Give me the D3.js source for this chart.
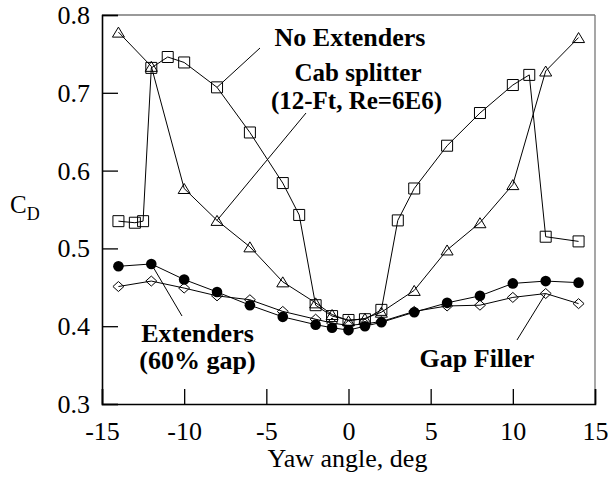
<!DOCTYPE html>
<html>
<head>
<meta charset="utf-8">
<script src="https://cdn.jsdelivr.net/npm/d3@7"></script>
<style>
  html, body { margin: 0; padding: 0; background: #fff; }
  svg { display: block; }
  svg text { font-family: "Liberation Serif", "Times New Roman", serif !important; }
</style>
</head>
<body>
<svg id="chart" width="608" height="477"></svg>
<script>
// Drag coefficient vs yaw angle for four truck configurations
const noExtX = [-14, -13, -12.5, -12, -11, -10, -8, -6, -4, -3, -2, -1, 0, 1, 2, 3, 4, 6, 8, 10, 11, 12, 14];
const noExtY = [0.535, 0.533, 0.535, 0.732, 0.746, 0.739, 0.707, 0.649, 0.584, 0.543, 0.427, 0.413, 0.408, 0.409, 0.421, 0.536, 0.577, 0.632, 0.674, 0.710, 0.723, 0.515, 0.509];

const cabX = [-14, -12, -10, -8, -6, -4, -2, -1, 0, 1, 2, 4, 6, 8, 10, 12, 14];
const cabY = [0.778, 0.734, 0.577, 0.536, 0.502, 0.457, 0.430, 0.415, 0.407, 0.410, 0.418, 0.446, 0.498, 0.533, 0.582, 0.728, 0.771];

const extX = [-14, -12, -10, -8, -6, -4, -2, -1, 0, 1, 2, 4, 6, 8, 10, 12, 14];
const extY = [0.477, 0.480, 0.460, 0.444, 0.427, 0.412, 0.402, 0.398, 0.395, 0.400, 0.405, 0.418, 0.430, 0.439, 0.455, 0.458, 0.456];

const gapX = [-14, -12, -10, -8, -6, -4, -2, -1, 0, 1, 2, 4, 6, 8, 10, 12, 14];
const gapY = [0.451, 0.458, 0.449, 0.439, 0.434, 0.419, 0.409, 0.404, 0.401, 0.403, 0.406, 0.419, 0.426, 0.427, 0.437, 0.442, 0.429];

const xTicks = [-15, -10, -5, 0, 5, 10, 15];
const yTicks = [0.3, 0.4, 0.5, 0.6, 0.7, 0.8];

const W = 608, H = 477;
const margin = { left: 102, right: 13, top: 15, bottom: 73 };
const iw = W - margin.left - margin.right;
const ih = H - margin.top - margin.bottom;
const SERIF = "'Liberation Serif', 'Times New Roman', serif";

const svg = d3.select("#chart");
const g = svg.append("g").attr("transform", `translate(${margin.left},${margin.top})`);

const x = d3.scaleLinear().domain([-15, 15]).range([0, iw]);
const y = d3.scaleLinear().domain([0.3, 0.8]).range([ih, 0]);

// light frame on top and right
g.append("line").attr("x1", 0).attr("x2", iw).attr("y1", 0).attr("y2", 0)
  .attr("stroke", "#777").attr("stroke-width", 1.3);
g.append("line").attr("x1", iw).attr("x2", iw).attr("y1", 0).attr("y2", ih)
  .attr("stroke", "#777").attr("stroke-width", 1.3);

// axes with inward ticks
const xAxis = d3.axisBottom(x).tickValues(xTicks).tickSize(-15).tickPadding(18)
  .tickFormat(d => String(d));
const yAxis = d3.axisLeft(y).tickValues(yTicks).tickSize(-16).tickPadding(12)
  .tickFormat(d => d.toFixed(1));

const gx = g.append("g").attr("transform", `translate(0,${ih})`).call(xAxis);
const gy = g.append("g").call(yAxis);
[gx, gy].forEach(a => {
  a.attr("font-family", null).attr("font-size", null);
  a.select(".domain").attr("stroke", "#000").attr("stroke-width", 1.6);
  a.selectAll(".tick line").attr("stroke", "#000").attr("stroke-width", 1.3);
  a.selectAll(".tick text").attr("fill", "#000")
    .style("font-family", SERIF).style("font-size", "26px");
});
gy.selectAll(".tick text").attr("dy", "0.33em");

// custom marker shapes
const triangle = {
  draw(ctx) {
    const w = 6, h = 5;
    ctx.moveTo(0, -h); ctx.lineTo(w, h); ctx.lineTo(-w, h); ctx.closePath();
  }
};
const square = {
  draw(ctx) {
    const r = 5.5;
    ctx.moveTo(-r, -r); ctx.lineTo(r, -r); ctx.lineTo(r, r); ctx.lineTo(-r, r); ctx.closePath();
  }
};
const diamond = {
  draw(ctx) {
    const w = 5.5, h = 5;
    ctx.moveTo(0, -h); ctx.lineTo(w, 0); ctx.lineTo(0, h); ctx.lineTo(-w, 0); ctx.closePath();
  }
};

function drawSeries(xs, ys, type) {
  const pts = xs.map((v, i) => [v, ys[i]]);
  const line = d3.line().x(d => x(d[0])).y(d => y(d[1]));
  g.append("path").datum(pts).attr("d", line)
    .attr("fill", "none").attr("stroke", "#000").attr("stroke-width", 1);
  if (type === "circle") {
    g.append("g").selectAll("circle").data(pts).join("circle")
      .attr("cx", d => x(d[0])).attr("cy", d => y(d[1])).attr("r", 5.3)
      .attr("fill", "#000");
  } else {
    const sym = d3.symbol().type(type);
    g.append("g").selectAll("path").data(pts).join("path")
      .attr("transform", d => `translate(${x(d[0])},${y(d[1])})`)
      .attr("d", sym)
      .attr("fill", "none").attr("stroke", "#000").attr("stroke-width", 1);
  }
}

drawSeries(gapX, gapY, diamond);
drawSeries(extX, extY, "circle");
drawSeries(cabX, cabY, triangle);
drawSeries(noExtX, noExtY, square);

// annotations with leader lines
const lab = svg.append("g").attr("fill", "#000").attr("text-anchor", "middle");

function label(cx, by, txt, size = 26) {
  lab.append("text").attr("x", cx).attr("y", by).text(txt)
    .style("font-family", SERIF).style("font-size", size + "px").style("font-weight", "bold");
}

function leader(x1, y1, dx, dy) {
  svg.append("line").attr("x1", x1).attr("y1", y1)
    .attr("x2", margin.left + x(dx)).attr("y2", margin.top + y(dy))
    .attr("stroke", "#000").attr("stroke-width", 1);
}

label(350, 46, "No Extenders");
leader(260, 48, -8, 0.707);

label(358, 81, "Cab splitter", 25);
label(356.5, 109, "(12-Ft, Re=6E6)", 25);
leader(306, 113, -8, 0.536);

label(197.5, 341.5, "Extenders");
label(197.5, 369, "(60% gap)");
leader(182, 316, -12, 0.480);

label(477, 366.5, "Gap Filler");
leader(517, 340, 12, 0.442);

// axis titles
svg.append("text").attr("x", 347.5).attr("y", 467).attr("text-anchor", "middle")
  .style("font-family", SERIF).style("font-size", "26px").text("Yaw angle, deg");

const yt = svg.append("text").attr("x", 10).attr("y", 213)
  .style("font-family", SERIF).style("font-size", "25px");
yt.append("tspan").text("C");
yt.append("tspan").attr("dy", 7).style("font-size", "18px").text("D");
</script>
</body>
</html>
